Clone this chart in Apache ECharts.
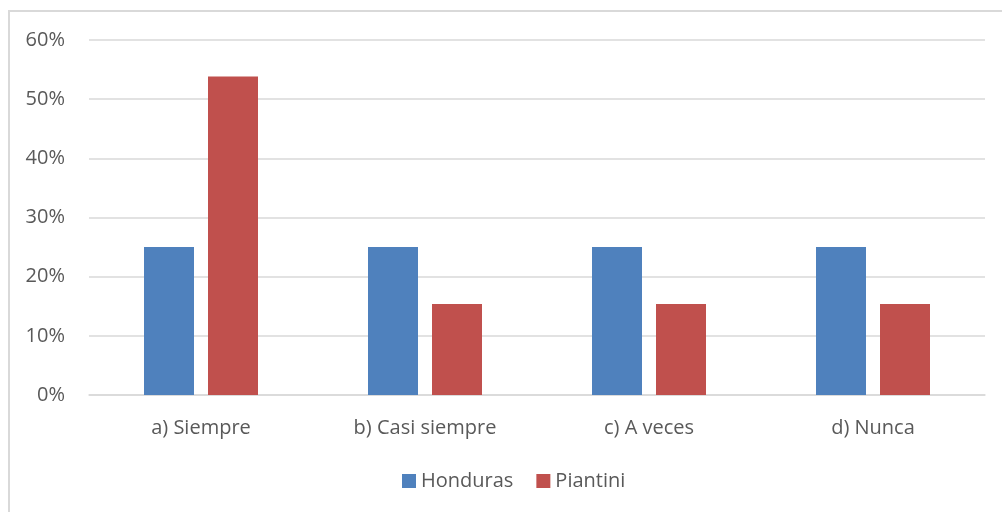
<!DOCTYPE html>
<html>
<head>
<meta charset="utf-8">
<script src="https://cdn.jsdelivr.net/npm/echarts@6/dist/echarts.min.js"></script>
<style>
  html, body { margin: 0; padding: 0; background: #fff; }
  #frame { position: absolute; left: 8px; top: 10px; width: 1100px; height: 600px; border: 2px solid #d9d9d9; box-sizing: border-box; }
  #chart { position: absolute; left: 0; top: 0; width: 1002px; height: 512px; }
</style>
</head>
<body>
<div id="frame"></div>
<div id="chart"></div>
<script>
// categories and values (fractions)
const categories = ['a) Siempre', 'b) Casi siempre', 'c) A veces', 'd) Nunca'];
const honduras = [0.25, 0.25, 0.25, 0.25];
const piantini = [0.5385, 0.1538, 0.1538, 0.1538];
const yTicks = { min: 0, max: 0.6, interval: 0.1 };

const labelColor = '#595959';
const fontFamily = 'Open Sans';
const fontSize = 20;

const chart = echarts.init(document.getElementById('chart'), null, { renderer: 'canvas' });

chart.setOption({
    animation: false,
    color: ['#4f81bd', '#c0504d'],
    textStyle: { fontFamily: fontFamily },
    grid: { left: 89, right: 17, top: 40, bottom: 117, containLabel: false },
    legend: {
        data: ['Honduras', 'Piantini'],
        top: 466,
        left: 397,
        icon: 'rect',
        itemWidth: 14,
        itemHeight: 14,
        itemGap: 23,
        textStyle: { color: labelColor, fontSize: fontSize, fontFamily: fontFamily }
    },
    xAxis: {
        type: 'category',
        data: categories,
        axisLine: { lineStyle: { color: '#d9d9d9', width: 1.5 } },
        axisTick: { show: false },
        axisLabel: { color: labelColor, fontSize: fontSize, margin: 23, fontFamily: fontFamily }
    },
    yAxis: {
        type: 'value',
        min: yTicks.min,
        max: yTicks.max,
        interval: yTicks.interval,
        axisLine: { show: false },
        axisTick: { show: false },
        splitLine: { lineStyle: { color: '#d9d9d9', width: 1.5 } },
        axisLabel: {
            color: labelColor,
            fontSize: fontSize,
            margin: 24,
            fontFamily: fontFamily,
            formatter: v => Math.round(v * 100) + '%'
        }
    },
    series: [
        { name: 'Honduras', type: 'bar', data: honduras, barWidth: 50, barGap: '28%' },
        { name: 'Piantini', type: 'bar', data: piantini, barWidth: 50, barGap: '28%' }
    ]
});
</script>
</body>
</html>
